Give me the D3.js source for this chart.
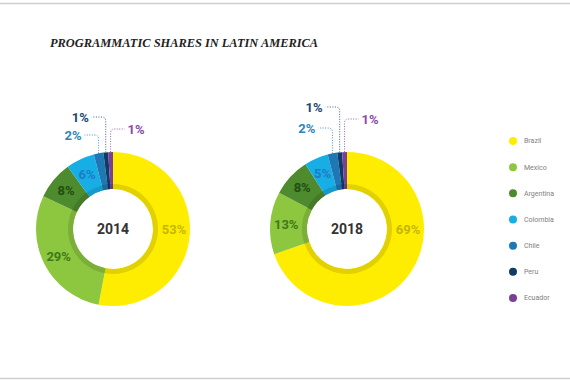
<!DOCTYPE html>
<html>
<head>
<meta charset="utf-8">
<script src="https://cdn.jsdelivr.net/npm/d3@7/dist/d3.min.js"></script>
<style>
html,body{margin:0;padding:0;background:#fff;}
svg{display:block;}
</style>
</head>
<body>
<svg id="chart" width="570" height="380"></svg>
<script>
// ---- DATA ----
const countries = ["Brazil","Mexico","Argentina","Colombia","Chile","Peru","Ecuador"];
const years = ["2014","2018"];
const shares2014 = [53,29,8,6,2,1,1];
const shares2018 = [69,13,8,5,2,1,1];
const colors = ["#ffed00","#8dc63f","#4e8a2e","#17aee6","#1f78b4","#0f3b66","#7b3f98"];
const labelColors = ["#c6b500","#3d7a1a","#1f4f12","#1f7cc2","#2b86bb","#1c4670","#8c4aa8"];

const title = "PROGRAMMATIC SHARES IN LATIN AMERICA";

// ---- LAYOUT ----
const W = 570, H = 380;
const svg = d3.select("#chart");
const R = 77, rIn = 40, rShade = 45, rLabel = 61;
const charts = [
  {year: years[0], values: shares2014, cx: 113, cy: 229,
   leaders: {4: {y: 135, dir: -1}, 5: {y: 117, dir: -1}, 6: {y: 129, dir: 1}}},
  {year: years[1], values: shares2018, cx: 347, cy: 229,
   leaders: {4: {y: 128, dir: -1}, 5: {y: 107, dir: -1}, 6: {y: 119, dir: 1}}}
];

// frame lines
svg.append("line").attr("x1",0).attr("x2",W).attr("y1",3.5).attr("y2",3.5)
  .attr("stroke","#cfcfcf").attr("stroke-width",1.5);
svg.append("line").attr("x1",0).attr("x2",W).attr("y1",378.5).attr("y2",378.5)
  .attr("stroke","#cfcfcf").attr("stroke-width",1.5);

// title
svg.append("text").attr("x",50).attr("y",47)
  .attr("font-family","'Liberation Serif', 'DejaVu Serif', serif")
  .attr("font-weight","bold").attr("font-style","italic")
  .attr("font-size",12.4).attr("fill","#222")
  .text(title);

const pie = d3.pie().sort(null).value(d => d);
const arc = d3.arc().innerRadius(rIn).outerRadius(R);
const shadeArc = d3.arc().innerRadius(rIn).outerRadius(rShade);

charts.forEach(c => {
  const g = svg.append("g").attr("transform", `translate(${c.cx},${c.cy})`);
  const arcs = pie(c.values);
  g.selectAll("path.slice").data(arcs).join("path")
    .attr("class","slice")
    .attr("d", arc)
    .attr("fill", (d,i) => colors[i]);
  // inner shading band
  g.selectAll("path.shade").data(arcs).join("path")
    .attr("class","shade")
    .attr("d", shadeArc)
    .attr("fill", (d,i) => d3.color(colors[i]).darker(0.35));

  // center year
  g.append("text").attr("x",0).attr("y",0).attr("dy","0.36em")
    .attr("text-anchor","middle")
    .attr("font-family","Roboto, 'Open Sans', sans-serif")
    .attr("font-weight","bold").attr("font-size",14).attr("fill","#333")
    .text(c.year);

  arcs.forEach((d,i) => {
    const lbl = d.value + "%";
    const L = c.leaders[i];
    if (!L) {
      // inside label; largest (first) slice label sits at 3 o'clock
      let a = (d.startAngle + d.endAngle)/2;
      if (i === 0) a = Math.PI/2;
      const x = Math.sin(a)*rLabel, y = -Math.cos(a)*rLabel;
      g.append("text").attr("x",x).attr("y",y).attr("dy","0.36em")
        .attr("text-anchor","middle")
        .attr("font-family","Roboto, 'Open Sans', sans-serif")
        .attr("font-weight","bold").attr("font-size",13)
        .attr("fill",labelColors[i]).text(lbl);
    } else {
      const a = (d.startAngle + d.endAngle)/2;
      const x0 = Math.sin(a)*R;
      const y0 = -Math.cos(a)*R;
      const yh = L.y - c.cy;
      const r = 4;
      const xEnd = x0 + L.dir*14;
      const p = d3.path();
      p.moveTo(x0, y0);
      p.lineTo(x0, yh + r);
      p.quadraticCurveTo(x0, yh, x0 + L.dir*r, yh);
      p.lineTo(xEnd, yh);
      g.append("path").attr("d", p.toString())
        .attr("fill","none").attr("stroke", colors[i])
        .attr("stroke-width",1).attr("stroke-dasharray","1,1.5")
        .attr("opacity",0.8);
      g.append("text").attr("x", xEnd + L.dir*3).attr("y", yh).attr("dy","0.36em")
        .attr("text-anchor", L.dir < 0 ? "end" : "start")
        .attr("font-family","Roboto, 'Open Sans', sans-serif")
        .attr("font-weight","bold").attr("font-size",13)
        .attr("fill",labelColors[i]).text(lbl);
    }
  });
});

// legend
const legendY = d3.scalePoint().domain(countries).range([141, 298]);
const lg = svg.append("g");
countries.forEach((name,i) => {
  lg.append("circle").attr("cx",513).attr("cy",legendY(name)).attr("r",4)
    .attr("fill",colors[i]);
  lg.append("text").attr("x",524).attr("y",legendY(name)).attr("dy","0.35em")
    .attr("font-family","Roboto, 'Open Sans', sans-serif")
    .attr("font-size",7).attr("fill","#808080").text(name);
});
</script>
</body>
</html>
